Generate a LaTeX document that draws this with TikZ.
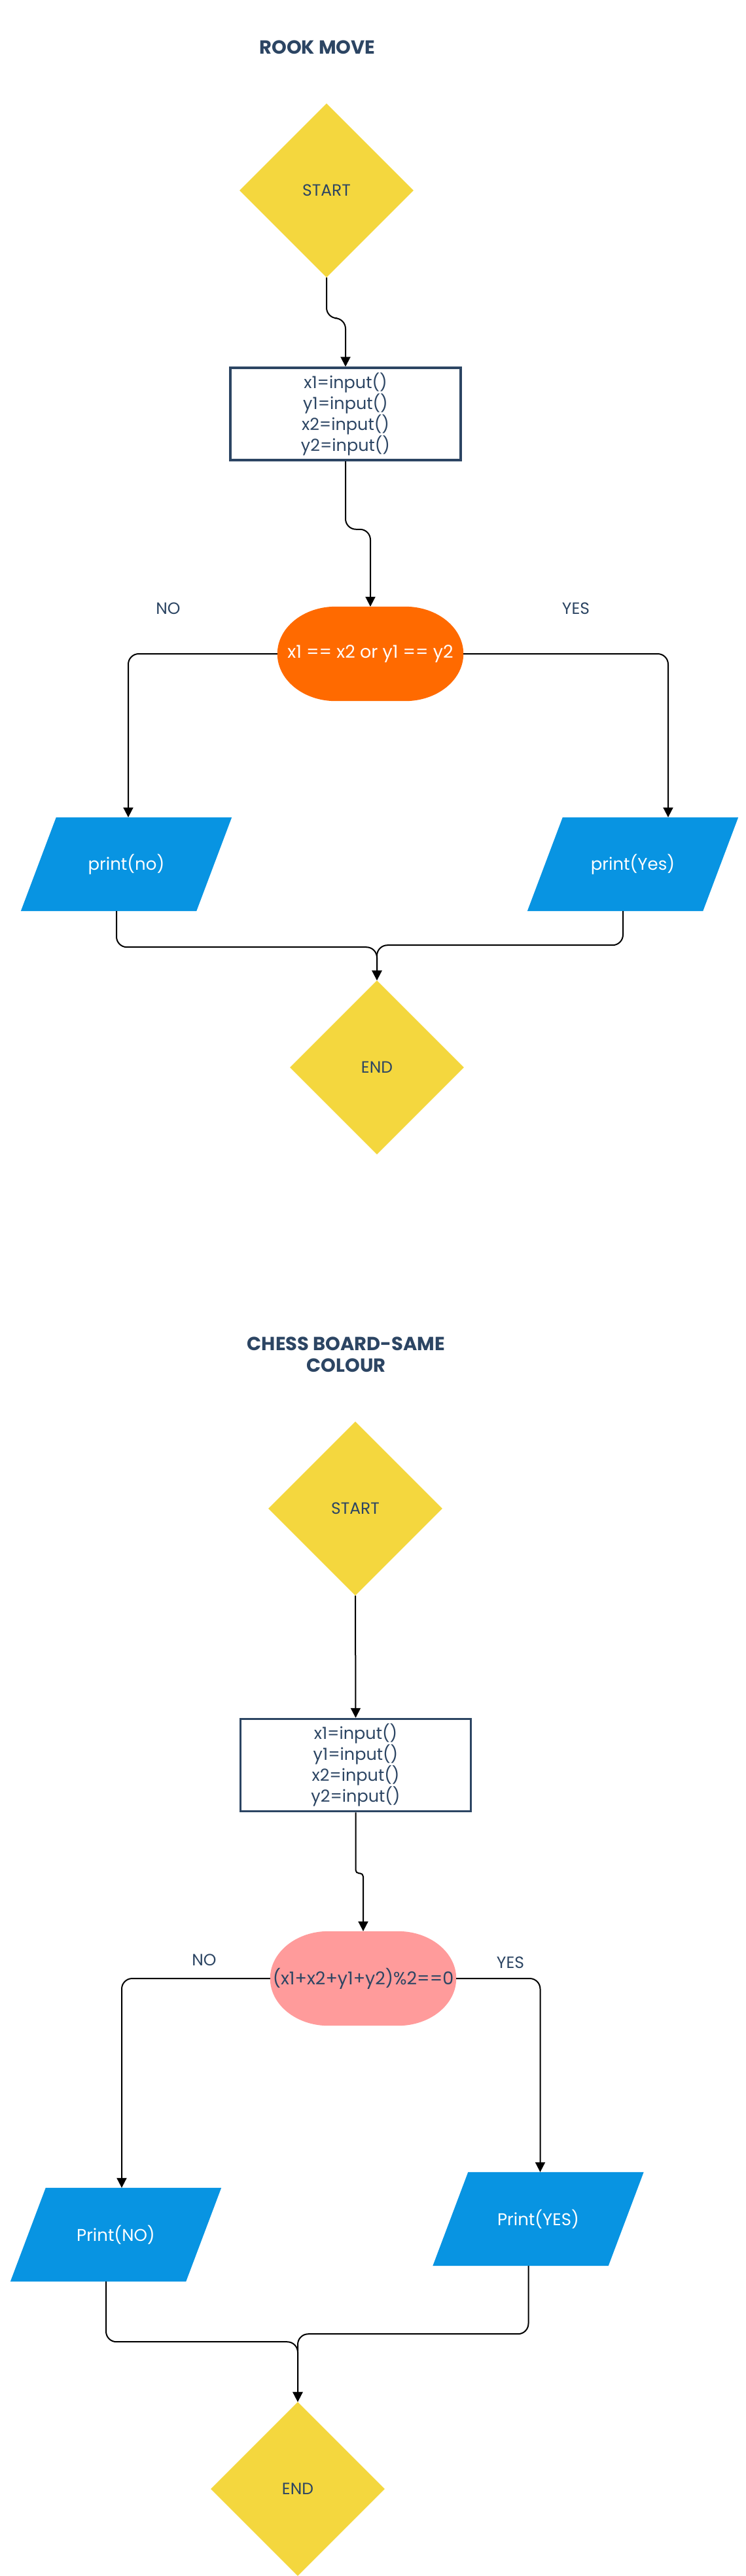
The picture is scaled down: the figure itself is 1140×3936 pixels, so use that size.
\documentclass[tikz,border=0pt]{standalone}
\usepackage{fontspec}
\setmainfont{Poppins}
\usetikzlibrary{shapes.geometric,arrows.meta,calc,backgrounds}
\definecolor{navy}{HTML}{2C4563}
\definecolor{sun}{HTML}{F4D73E}
\definecolor{tang}{HTML}{FF6A00}
\definecolor{sky}{HTML}{0894E2}
\definecolor{rose}{HTML}{FF9B9B}
\newcommand\stadfill[2]{%
 \fill[#2] ($(#1.north west)+(89,0)$) -- ($(#1.north east)+(-89,0)$)
  .. controls ($(#1.north east)+(-40,0)$) and ($(#1.east)+(0,-40)$) .. (#1.east)
  .. controls ($(#1.east)+(0,40)$) and ($(#1.south east)+(-40,0)$) .. ($(#1.south east)+(-89,0)$)
  -- ($(#1.south west)+(89,0)$)
  .. controls ($(#1.south west)+(40,0)$) and ($(#1.west)+(0,40)$) .. (#1.west)
  .. controls ($(#1.west)+(0,-40)$) and ($(#1.north west)+(40,0)$) .. ($(#1.north west)+(89,0)$) -- cycle;}
\newcommand\parafill[1]{%
 \fill[sky] (#1.south west) -- ($(#1.north west)+(54,0)$) -- (#1.north east) -- ($(#1.south east)+(-54,0)$) -- cycle;}
\begin{document}
\begin{tikzpicture}[x=1pt,y=-1pt,
  every node/.style={inner sep=0pt, text=navy, font=\fontsize{25}{32}\selectfont},
  ttl/.style={font=\fontsize{29}{33}\selectfont\bfseries, align=center},
  term/.style={diamond, fill=sun, minimum width=266pt, minimum height=266pt, aspect=1},
  procbox/.style={draw=navy, line width=3.5pt, minimum width=352pt, minimum height=141pt, align=center, font=\fontsize{25.5}{32}\selectfont},
  dec/.style={minimum width=284pt, minimum height=144pt, font=\fontsize{27}{32}\selectfont},
  io/.style={minimum width=322pt, minimum height=143pt, text=white, font=\fontsize{26}{32}\selectfont},
  conn/.style={draw=black, line width=2pt, rounded corners=16pt, -{Triangle[length=15pt,width=15pt]}},
]
\useasboundingbox (0,0) rectangle (1140,3936);

% ---------- ROOK MOVE ----------
\node[ttl] (title1) at (485,72) {ROOK MOVE};
\node[term] (s1) at (499,291) {START};
\node[procbox] (b1) at (528,632.5) {x1=input()\\y1=input()\\x2=input()\\y2=input()};
\node[dec, text=white] (d1) at (566,999) {x1 == x2 or y1 == y2};
\node (no1) at (257,930) {NO};
\node (yes1) at (880,930) {YES};
\node[io] (p1) at (193,1320.5) {print(no)};
\node[io] (p2) at (967,1320.5) {print(Yes)};
\node[term] (e1) at (576,1631) {END};

\draw[conn] (s1.south) -- ++(0,62) -| (b1.north);
\draw[conn] (b1.south) -- ++(0,104) -| (d1.north);
\draw[conn] (d1.west) -| ([xshift=3pt]p1.north);
\draw[conn] (d1.east) -| ([xshift=54pt]p2.north);
\draw[conn] ([xshift=-15pt]p1.south) -- ++(0,55) -| (e1.north);
\draw[conn] ([xshift=-15pt]p2.south) -- ++(0,52) -| (e1.north);

% ---------- CHESS BOARD ----------
\node[ttl] (title2) at (529,2070) {CHESS BOARD-SAME\\COLOUR};
\node[term] (s2) at (543,2305) {START};
\node[procbox] (b2) at (543.5,2697) {x1=input()\\y1=input()\\x2=input()\\y2=input()};
\node[dec] (d2) at (555,3023) {(x1+x2+y1+y2)\%2==0};
\node (no2) at (312,2995) {NO};
\node (yes2) at (780,2999) {YES};
\node[io] (p3) at (177,3414.5) {Print(NO)};
\node[io] (p4) at (822.5,3390.5) {Print(YES)};
\node[term] (e2) at (455,3803) {END};

\draw[conn] (s2.south) -- (b2.north);
\draw[conn, rounded corners=5pt] (b2.south) -- ++(0,93) -| (d2.north);
\draw[conn] (d2.west) -| ([xshift=9pt]p3.north);
\draw[conn] (d2.east) -| ([xshift=3pt]p4.north);
\draw[conn] ([xshift=-15pt]p3.south) -- ++(0,92) -| (e2.north);
\draw[conn] ([xshift=-15pt]p4.south) -- ++(0,104) -| (e2.north);

\begin{scope}[on background layer]
  \fill[white] (0,0) rectangle (1140,3936);
  \stadfill{d1}{tang}
  \stadfill{d2}{rose}
  \parafill{p1}
  \parafill{p2}
  \parafill{p3}
  \parafill{p4}
\end{scope}
\end{tikzpicture}
\end{document}
